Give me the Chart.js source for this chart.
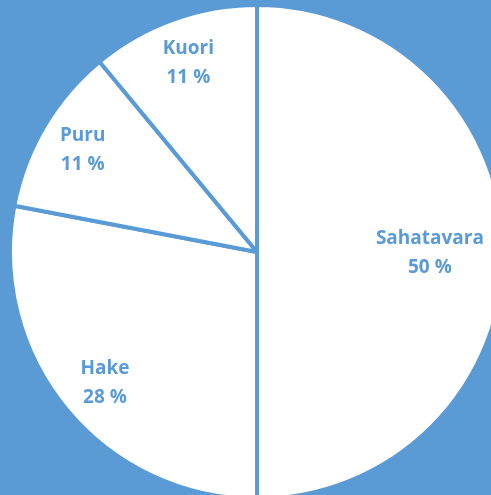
<!DOCTYPE html>
<html>
<head>
<meta charset="utf-8">
<script src="https://cdn.jsdelivr.net/npm/chart.js@4.4.0/dist/chart.umd.min.js"></script>
<style>
  html, body { margin: 0; padding: 0; width: 491px; height: 495px; overflow: hidden; background: #5b9bd5; }
  #wrap { position: absolute; left: 8px; top: 3px; width: 498px; height: 498px; }
</style>
</head>
<body>
<div id="wrap"><canvas id="chart"></canvas></div>
<script>
const labels = ['Sahatavara', 'Hake', 'Puru', 'Kuori'];
const shares = [50, 28, 11, 11];

const BLUE = '#5b9bd5';

// draws "name / NN %" inside each slice, roughly like Excel's best-fit labels
const sliceLabels = {
    id: 'sliceLabels',
    afterDatasetsDraw(chart) {
        const { ctx } = chart;
        const meta = chart.getDatasetMeta(0);
        ctx.save();
        ctx.fillStyle = BLUE;
        ctx.font = 'bold 19px "Open Sans", sans-serif';
        ctx.textAlign = 'center';
        ctx.textBaseline = 'middle';
        meta.data.forEach((arc, i) => {
            const mid = (arc.startAngle + arc.endAngle) / 2;
            const f = i === 0 ? 0.7 : 0.82;
            const x = arc.x + Math.cos(mid) * arc.outerRadius * f;
            const y = arc.y + Math.sin(mid) * arc.outerRadius * f;
            ctx.fillText(labels[i], x + (i === 1 ? 4 : 0), y - 13);
            ctx.fillText(shares[i] + ' %', x + (i === 1 ? 4 : 0), y + 16);
        });
        ctx.restore();
    }
};

new Chart(document.getElementById('chart').getContext('2d'), {
    type: 'pie',
    data: {
        labels,
        datasets: [{
            data: shares,
            backgroundColor: '#ffffff',
            borderColor: BLUE,
            borderWidth: 4,
            borderAlign: 'center'
        }]
    },
    options: {
        responsive: true,
        maintainAspectRatio: false,
        animation: false,
        layout: { padding: 0 },
        plugins: { legend: { display: false }, tooltip: { enabled: false } }
    },
    plugins: [sliceLabels]
});
</script>
</body>
</html>
